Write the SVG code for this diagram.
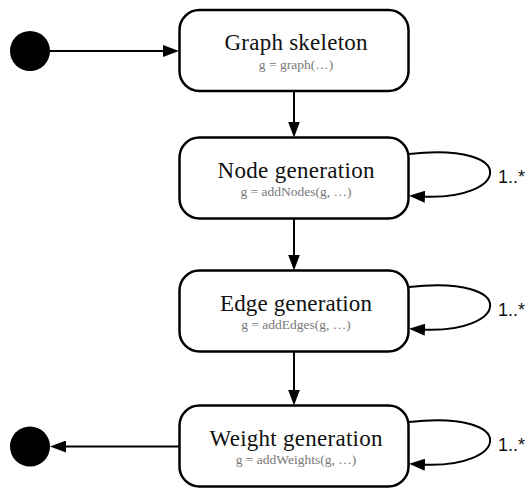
<svg xmlns="http://www.w3.org/2000/svg" width="530" height="488" viewBox="0 0 530 488">
  <style>
    .state { fill: #ffffff; stroke: #000000; stroke-width: 2.5; }
    .title { font-family: "Liberation Serif", "DejaVu Serif", serif; font-size: 23px; fill: #111111; text-anchor: middle; }
    .code { font-family: "Liberation Serif", "DejaVu Serif", serif; font-size: 13.5px; fill: #777777; text-anchor: middle; }
    .mult { font-family: "Liberation Sans", Arial, sans-serif; font-size: 18px; fill: #111111; }
    .edge { fill: none; stroke: #000000; stroke-width: 2; }
    .pseudo { fill: #000000; }
  </style>
  <defs>
    <marker id="arrow" markerUnits="userSpaceOnUse" markerWidth="16" markerHeight="12" refX="3" refY="6" orient="auto">
      <path d="M0,0 L16,6 L0,12 z" fill="#000000"/>
    </marker>
  </defs>

  <!-- initial and final pseudo-states -->
  <g id="start">
    <circle class="pseudo" cx="30" cy="51" r="20"/>
  </g>
  <g id="end">
    <circle class="pseudo" cx="30" cy="446.5" r="20"/>
  </g>

  <!-- states -->
  <g id="graph-skeleton">
    <rect class="state" x="179.5" y="10" width="229" height="81" rx="20" ry="20"/>
    <text class="title" x="296" y="50" textLength="143" lengthAdjust="spacing">Graph skeleton</text>
    <text class="code" x="296" y="68.5">g = graph(…)</text>
  </g>
  <g id="node-generation">
    <rect class="state" x="179.5" y="137.5" width="229" height="81" rx="20" ry="20"/>
    <text class="title" x="296" y="177.5" textLength="157" lengthAdjust="spacing">Node generation</text>
    <text class="code" x="296" y="196">g = addNodes(g, …)</text>
  </g>
  <g id="edge-generation">
    <rect class="state" x="179.5" y="270.5" width="229" height="81" rx="20" ry="20"/>
    <text class="title" x="296" y="310.5" textLength="152" lengthAdjust="spacing">Edge generation</text>
    <text class="code" x="296" y="329">g = addEdges(g, …)</text>
  </g>
  <g id="weight-generation">
    <rect class="state" x="179.5" y="405.5" width="229" height="81" rx="20" ry="20"/>
    <text class="title" x="296" y="445.5" textLength="173" lengthAdjust="spacing">Weight generation</text>
    <text class="code" x="296" y="464">g = addWeights(g, …)</text>
  </g>

  <!-- transitions -->
  <g id="connectors">
    <line class="edge" x1="50" y1="51" x2="166" y2="51" marker-end="url(#arrow)"/>
    <line class="edge" x1="294" y1="91" x2="294" y2="124.5" marker-end="url(#arrow)"/>
    <line class="edge" x1="294" y1="218.5" x2="294" y2="257.5" marker-end="url(#arrow)"/>
    <line class="edge" x1="294" y1="351.5" x2="294" y2="392.5" marker-end="url(#arrow)"/>
    <line class="edge" x1="179.5" y1="446.5" x2="63" y2="446.5" marker-end="url(#arrow)"/>

    <path class="edge" d="M409 154 C522 142 508 201 422 196.5" marker-end="url(#arrow)"/>
    <path class="edge" d="M409 287 C522 275 508 334 422 329.5" marker-end="url(#arrow)"/>
    <path class="edge" d="M409 422 C522 410 508 469 422 464.5" marker-end="url(#arrow)"/>

    <text class="mult" x="498" y="183">1..*</text>
    <text class="mult" x="498" y="316">1..*</text>
    <text class="mult" x="498" y="451">1..*</text>
  </g>
</svg>
